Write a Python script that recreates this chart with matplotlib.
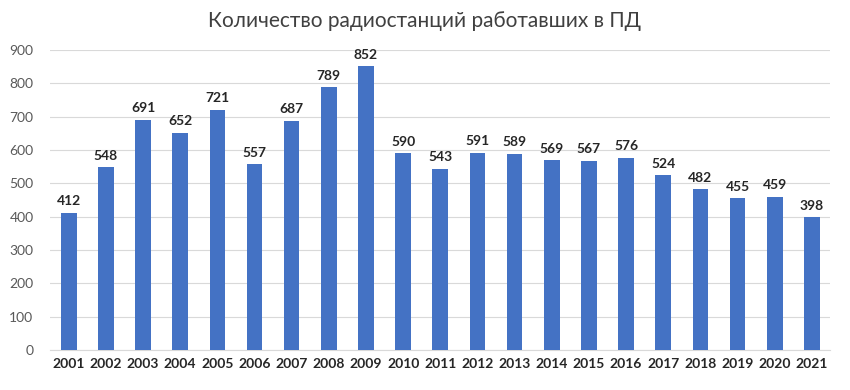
import matplotlib.pyplot as plt
import numpy as np

# Данные
years = [str(y) for y in range(2001, 2022)]
counts = [412, 548, 691, 652, 721, 557, 687, 789, 852, 590, 543,
          591, 589, 569, 567, 576, 524, 482, 455, 459, 398]

title = 'Количество радиостанций работавших в ПД'

plt.rcParams['font.family'] = ['Lato', 'DejaVu Sans']

fig = plt.figure(figsize=(8.5, 3.9), dpi=100)
ax = fig.add_axes([0.059, 0.1026, 0.918, 0.769])

x = np.arange(len(years))
bars = ax.bar(x, counts, width=0.42, color='#4472C4', zorder=3)

# подписи над столбцами
for bar, val in zip(bars, counts):
    ax.annotate(str(val),
                xy=(bar.get_x() + bar.get_width() / 2, bar.get_height()),
                xytext=(0, 4), textcoords='offset points',
                ha='center', va='bottom', fontsize=10, fontweight='bold',
                color='#262626')

ax.set_xlim(-0.5, len(years) - 0.5)
ax.set_ylim(0, 900)
ax.set_yticks(range(0, 901, 100))
ax.set_xticks(x)
ax.set_xticklabels(years, fontweight='bold', fontsize=10, color='#262626')
ax.tick_params(axis='y', labelsize=10, colors='#595959', length=0, pad=12)
ax.tick_params(axis='x', length=0, pad=6)
ax.grid(axis='y', color='#D9D9D9', linewidth=0.8, zorder=0)

for side in ['top', 'right', 'left']:
    ax.spines[side].set_visible(False)
ax.spines['bottom'].set_color('#D9D9D9')

fig.text(0.5, 0.945, title, ha='center', va='center', fontsize=15, color='#404040')

fig.savefig('out.png', dpi=100)
